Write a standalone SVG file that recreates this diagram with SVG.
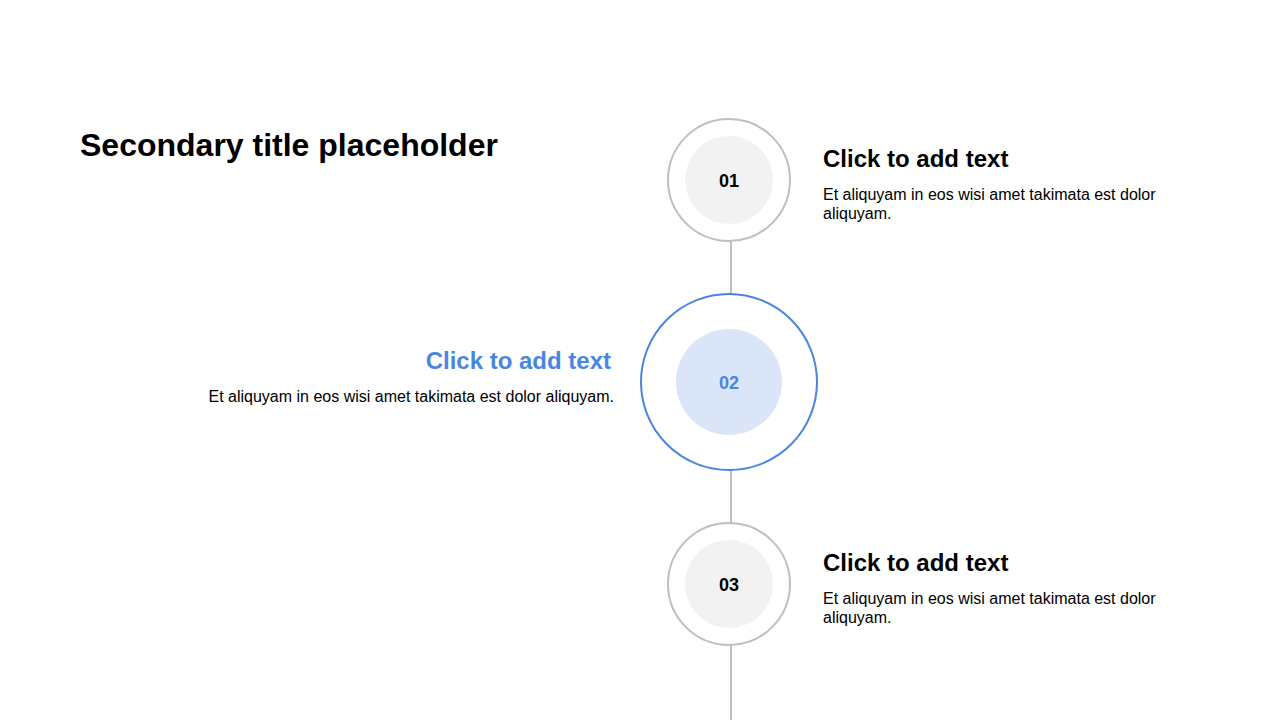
<svg xmlns="http://www.w3.org/2000/svg" width="1280" height="720" viewBox="0 0 1280 720">
<style>
.t{font-family:"Liberation Sans",Arial,sans-serif}
.title{font-size:32px;font-weight:bold;fill:#000}
.h{font-size:24px;font-weight:bold;fill:#000}
.b{font-size:16px;fill:#000}
.num{font-size:18px;font-weight:bold;fill:#000;text-anchor:middle}
.ring{fill:#fff;stroke:#bfbfbf;stroke-width:2}
.core{fill:#f2f2f2}
.conn{stroke:#bfbfbf;stroke-width:2;fill:none}
</style>
<rect width="1280" height="720" fill="#fff"/>
<text class="t title" x="80" y="156">Secondary title placeholder</text>
<g id="connectors">
<line class="conn" x1="731" y1="241" x2="731" y2="295"/>
<line class="conn" x1="731" y1="470" x2="731" y2="523"/>
<line class="conn" x1="731" y1="645" x2="731" y2="720"/>
</g>
<g id="node1">
<circle class="ring" cx="729" cy="180" r="61"/>
<circle class="core" cx="729" cy="180" r="44"/>
<text class="t num" x="729" y="187">01</text>
<text class="t h" x="823" y="167">Click to add text</text>
<text class="t b" x="823" y="200">Et aliquyam in eos wisi amet takimata est dolor</text>
<text class="t b" x="823" y="219">aliquyam.</text>
</g>
<g id="node2">
<circle cx="729" cy="382" r="88" fill="#fff" stroke="#4a86e0" stroke-width="2"/>
<circle cx="729" cy="382" r="53" fill="#dae6f7"/>
<text class="t num" x="729" y="389" style="fill:#4a86e0">02</text>
<text class="t h" x="611" y="369" text-anchor="end" style="fill:#4a86e0">Click to add text</text>
<text class="t b" x="614" y="402" text-anchor="end">Et aliquyam in eos wisi amet takimata est dolor aliquyam.</text>
</g>
<g id="node3">
<circle class="ring" cx="729" cy="584" r="61"/>
<circle class="core" cx="729" cy="584" r="44"/>
<text class="t num" x="729" y="591">03</text>
<text class="t h" x="823" y="571">Click to add text</text>
<text class="t b" x="823" y="604">Et aliquyam in eos wisi amet takimata est dolor</text>
<text class="t b" x="823" y="623">aliquyam.</text>
</g>
</svg>
